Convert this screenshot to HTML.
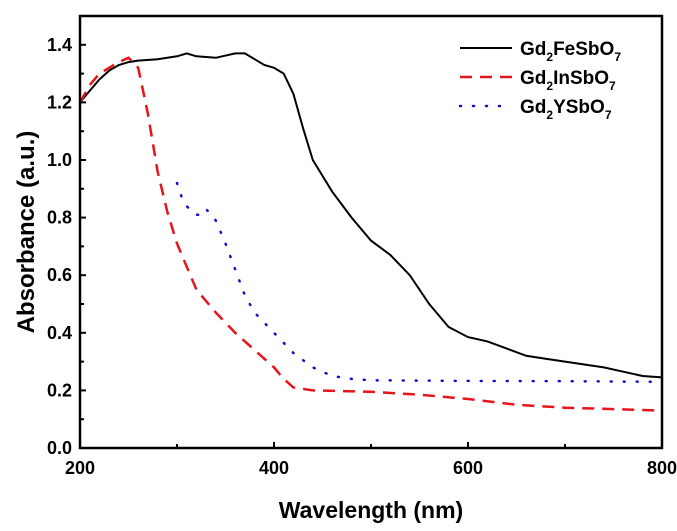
<!DOCTYPE html>
<html><head><meta charset="utf-8"><style>
html,body{margin:0;padding:0;background:#fff;}
svg{display:block;font-family:"Liberation Sans",Arial,sans-serif;font-weight:bold;}
</style></head><body>
<svg id="chart" width="677" height="531" viewBox="0 0 677 531" xmlns="http://www.w3.org/2000/svg">
<g id="marks"></g>
<g id="axes"></g>
</svg>
<script>
const xTicks=[200,400,600,800];
const yTicks=[0.0,0.2,0.4,0.6,0.8,1.0,1.2,1.4];
const feX=[200,205,210,220,230,240,250,260,280,300,310,320,340,360,370,380,390,400,410,420,430,440,460,480,500,520,540,560,580,600,620,640,660,680,700,720,740,760,780,800];
const feY=[1.20,1.22,1.24,1.28,1.31,1.33,1.34,1.345,1.35,1.36,1.37,1.36,1.355,1.37,1.37,1.35,1.33,1.32,1.30,1.23,1.11,1.00,0.89,0.80,0.72,0.67,0.60,0.50,0.42,0.385,0.37,0.345,0.32,0.31,0.30,0.29,0.28,0.265,0.25,0.245];
const inX=[200,210,220,240,250,260,270,280,290,300,310,320,340,360,380,400,410,420,440,500,550,600,650,700,750,800];
const inY=[1.20,1.26,1.30,1.34,1.355,1.32,1.16,0.96,0.82,0.71,0.63,0.55,0.47,0.40,0.34,0.28,0.24,0.21,0.20,0.195,0.185,0.17,0.15,0.14,0.135,0.13];
const yX=[300,305,310,315,320,325,330,340,350,360,370,380,400,420,440,460,480,500,600,700,800];
const yY=[0.92,0.87,0.84,0.82,0.81,0.81,0.83,0.79,0.71,0.62,0.53,0.47,0.40,0.33,0.28,0.25,0.24,0.235,0.233,0.232,0.23];
const L=80,R=662,T=16,B=448;
const sx=v=>L+(v-200)/600*(R-L);
const sy=v=>B-v/1.5*(B-T);
const NS="http://www.w3.org/2000/svg";
const marks=document.getElementById('marks'),axes=document.getElementById('axes');
function mk(tag,attrs,parent,txt){const e=document.createElementNS(NS,tag);for(const k in attrs)e.setAttribute(k,attrs[k]);if(txt!==undefined)e.textContent=txt;parent.appendChild(e);return e;}
const DOT='1 12';
function series(xs,ys,stroke,dash,w,name){
  const d=xs.map((x,i)=>(i?'L':'M')+sx(x).toFixed(1)+','+sy(ys[i]).toFixed(1)).join('');
  const p=mk('path',{d:d,fill:'none',stroke:stroke,'stroke-width':w,'stroke-dasharray':dash,'stroke-linecap':dash===DOT?'round':'butt'},marks);
  
  
}
series(feX,feY,'#000','none',2,'gd2fesbo7-line');
series(inX,inY,'#e8141c','12 8',2.5,'gd2insbo7-line');
series(yX,yY,'#1010c8',DOT,2.5,'gd2ysbo7-line');
const frame=mk('rect',{x:L,y:T,width:R-L,height:B-T,fill:'none',stroke:'#000','stroke-width':2.5},axes);


for(let v=200;v<=800;v+=100){const x=sx(v);const len=v%200===0?6:4;mk('line',{x1:x,y1:B,x2:x,y2:B-len,stroke:'#000','stroke-width':2},axes);}
xTicks.forEach(v=>{const t=mk('text',{x:sx(v),y:B+26,'text-anchor':'middle','font-size':18},axes,String(v));

});
for(let i=0;i<=14;i++){const v=i/10;const y=sy(v);mk('line',{x1:L,y1:y,x2:L+(i%2?4:6),y2:y,stroke:'#000','stroke-width':2},axes);}
yTicks.forEach(v=>{const t=mk('text',{x:L-8,y:sy(v)+6,'text-anchor':'end','font-size':18},axes,v.toFixed(1));

});
const xt=mk('text',{x:(L+R)/2,y:518,'text-anchor':'middle','font-size':23},axes,'Wavelength (nm)');


const yt=mk('text',{x:0,y:0,transform:'translate(34,'+((T+B)/2)+') rotate(-90)','text-anchor':'middle','font-size':24},axes,'Absorbance (a.u.)');


const leg=[['Gd','FeSb','#000','none',2],['Gd','InSb','#e8141c','12 8',2.5],['Gd','YSb','#1010c8',DOT,2.5]];
leg.forEach((l,i)=>{const y=48+i*29;
  const g=mk('g',{},axes);
  
  
  mk('line',{x1:460,y1:y,x2:512,y2:y,stroke:l[2],'stroke-width':l[4],'stroke-dasharray':l[3],'stroke-linecap':l[3]===DOT?'round':'butt'},g);
  const t=mk('text',{x:520,y:y+7,'font-size':19},g);
  mk('tspan',{},t,l[0]);mk('tspan',{dy:6,'font-size':12},t,'2');mk('tspan',{dy:-6},t,l[1]+'O');mk('tspan',{dy:6,'font-size':12},t,'7');
});
</script>
</body></html>
